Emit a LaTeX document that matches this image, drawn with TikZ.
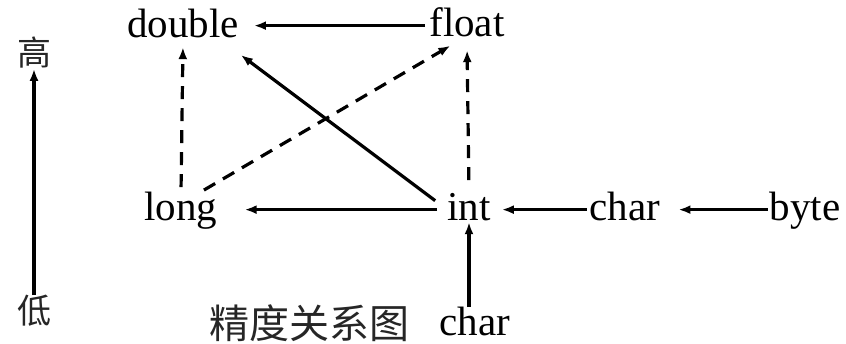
\documentclass[tikz,border=0pt]{standalone}
\usepackage{fontspec}
\setmainfont{Liberation Serif}
\newfontfamily\cjk{Noto Sans CJK SC}
\usetikzlibrary{arrows.meta}

\begin{document}
\begin{tikzpicture}[
    x=1pt,y=-1pt,
    typenode/.style={
      anchor=base,
      inner sep=0pt,
      text height=28.7pt,
      text depth=6pt,
      font=\fontsize{41}{41}\selectfont
    },
    levelnode/.style={
      inner sep=0pt,
      text=black!85,
      font=\cjk\fontsize{34}{34}\selectfont
    },
    arrow/.style={-{Latex[length=12pt,width=9pt]},line width=3.2pt},
    dasharrow/.style={arrow,dash pattern=on 13pt off 9pt}
  ]
  \useasboundingbox (0,0) rectangle (846,344);
  % type nodes
  \node[typenode] (db) at (183,38) {double};
  \node[typenode] (fl) at (467,37) {float};
  \node[typenode] (lg) at (181,221) {long};
  \node[typenode] (it) at (469,221) {int};
  \node[typenode] (ch) at (625,221) {char};
  \node[typenode] (bt) at (805,221) {byte};
  \node[typenode] (cb) at (475,336) {char};
  % side scale and caption
  \node[levelnode] (hi) at (34,53) {高};
  \node[levelnode] (lo) at (34,311) {低};
  \node[levelnode,font=\cjk\fontsize{40}{40}\selectfont] (cap) at (309,323) {精度关系图};
  % conversions
  \draw[arrow,shorten <=4pt,shorten >=15pt] (fl.west) -- (db.east |- fl.west);
  \draw[dasharrow,shorten <=5pt,shorten >=3pt] (lg.north) -- (db.south);
  \draw[dasharrow,shorten <=4pt,shorten >=5pt] (lg.42) -- (fl.235);
  \draw[arrow,shorten <=15pt,shorten >=18pt] (it.west) -- (db.338);
  \draw[dasharrow,shorten <=12pt,shorten >=7pt] (it.north) -- (fl.south);
  \draw[arrow,shorten <=10pt,shorten >=27pt] (it.west) -- (lg.east |- it.west);
  \draw[arrow,shorten <=3pt,shorten >=11pt] (ch.west) -- (it.east);
  \draw[arrow,shorten <=2pt,shorten >=18pt] (bt.west) -- (ch.east);
  \draw[arrow,shorten >=-5pt] (cb.north -| it.south) -- (it.south);
  \draw[arrow] (lo.north) -- (hi.south);
\end{tikzpicture}
\end{document}
